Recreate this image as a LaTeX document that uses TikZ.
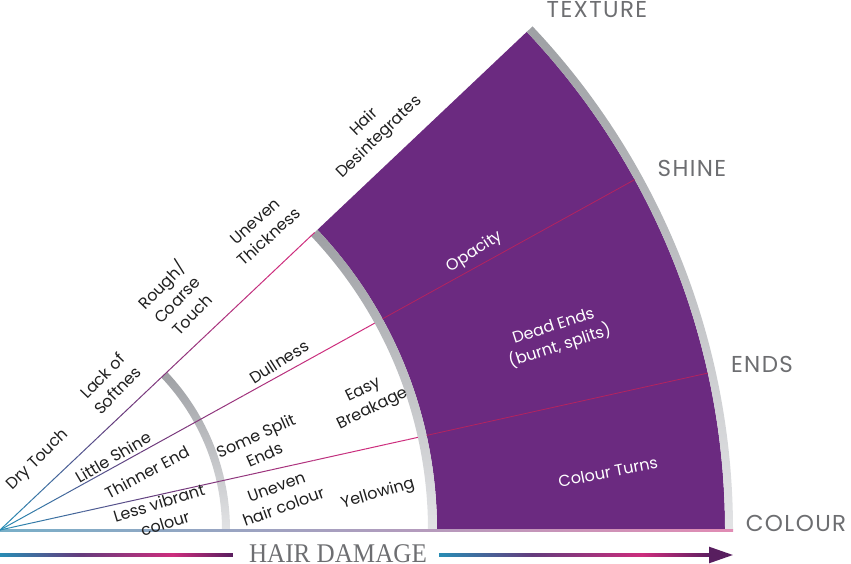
\documentclass[tikz,border=0pt]{standalone}
\usepackage{fontspec}
\setmainfont{Poppins}
\newfontfamily\axisfont[LetterSpace=6]{Poppins}
\newfontfamily\damagefont{Liberation Serif}
\usetikzlibrary{arrows.meta,calc}

\definecolor{hairpurple}{RGB}{107,42,128}
\definecolor{raystart}{RGB}{40,140,180}
\definecolor{raymid}{RGB}{100,60,125}
\definecolor{rayend}{RGB}{205,45,125}
\definecolor{rayinner}{RGB}{180,35,95}
\definecolor{bandgray}{RGB}{158,160,164}
\definecolor{bandlight}{RGB}{226,227,229}
\definecolor{labelgray}{RGB}{109,110,113}
\definecolor{arrowdark}{RGB}{88,30,95}
\definecolor{baselight}{RGB}{120,175,200}
\definecolor{basepink}{RGB}{225,140,180}

\pgfdeclarehorizontalshading{damage}{100bp}{color(0bp)=(raystart); color(25bp)=(raystart);
  color(42bp)=(raymid); color(62bp)=(rayend); color(75bp)=(arrowdark); color(100bp)=(arrowdark)}

\begin{document}
\begin{tikzpicture}[
    x=1pt, y=1pt,
    lbl/.style={
        align=center,
        inner sep=0pt,
        text=black!88,
        font=\fontsize{16}{21}\selectfont
    },
    inlbl/.style={lbl, text=white},
    axislbl/.style={
        inner sep=0pt,
        text=labelgray,
        font=\axisfont\fontsize{23}{26}\selectfont
    },
    band/.style={top color=bandgray, bottom color=bandlight}
]
\useasboundingbox (0,-34) rectangle (851,530);

% fan
\coordinate (o) at (0,0);
\def\angtex{43.4}
\def\angshine{28.9}
\def\angends{12.5}

\fill[hairpurple] (0:437) arc[start angle=0, end angle=\angtex, radius=437]
    -- (\angtex:725) arc[start angle=\angtex, end angle=0, radius=725] -- cycle;
\shade[band] (0:222) arc[start angle=0, end angle=\angtex, radius=222]
    -- (\angtex:230) arc[start angle=\angtex, end angle=0, radius=230] -- cycle;
\shade[band] (0:428) arc[start angle=0, end angle=\angtex, radius=428]
    -- (\angtex:437) arc[start angle=\angtex, end angle=0, radius=437] -- cycle;
\shade[band] (0:725) arc[start angle=0, end angle=\angtex, radius=725]
    -- (\angtex:733) arc[start angle=\angtex, end angle=0, radius=733] -- cycle;

\shade[left color=baselight, right color=basepink] (0,-1.2) rectangle (733,0.4);

% rays
\foreach \a/\r in {\angtex/433, \angshine/428, \angends/428}{
  \foreach \i in {0,...,39}{
    \pgfmathtruncatemacro\pa{min(100,\i*100/14)}
    \pgfmathtruncatemacro\pb{max(0,(\i-14)*100/20)}
    \pgfmathtruncatemacro\pb{min(100,\pb)}
    \draw[line width=1pt, color={rayend!\pb!raymid!\pa!raystart}]
      ($(o)+(\a:{\r/40*\i})$) -- ($(o)+(\a:{\r/40*(\i+1)})$);
  }
}
\draw[rayinner, line width=0.8pt] (\angshine:437) -- (\angshine:725);
\draw[rayinner, line width=0.8pt] (\angends:437) -- (\angends:725);

% texture labels
\node[lbl, rotate=44] (drytouch) at (38,70) {Dry Touch};
\node[lbl, rotate=46] (lacksoft) at (110,147) {Lack of\\Softnes};
\node[lbl, rotate=46] (roughtouch) at (176,231) {Rough/\\Coarse\\Touch};
\node[lbl, rotate=42] (uneventhick) at (262,301) {Uneven\\Thickness};
\node[lbl, rotate=44] (hairdesint) at (372,400) {Hair\\Desintegrates};

% shine labels
\node[lbl, rotate=30.5] (littleshine) at (113,73) {Little Shine};
\node[lbl, rotate=32.5] (dullness) at (279,168) {Dullness};
\node[inlbl, rotate=33] (opacity) at (475,278) {Opacity};

% ends labels
\node[lbl, rotate=28] (thinnerend) at (147,58) {Thinner End};
\node[lbl, rotate=24] (somesplit) at (260,85) {Some Split\\Ends};
\node[lbl, rotate=26] (easybreak) at (368,130) {Easy\\Breakage};
\node[inlbl, rotate=18] (deadends) at (557,193) {Dead Ends\\(burnt, splits)};

% colour labels
\node[lbl, rotate=17] (lessvibrant) at (162,17) {Less vibrant\\colour};
\node[lbl, rotate=20] (unevenhair) at (280,33) {Uneven\\hair colour};
\node[lbl, rotate=16.5] (yellowing) at (378,36) {Yellowing};
\node[inlbl, rotate=11] (colourturns) at (608,58) {Colour Turns};

% axis names
\node[axislbl] (texture) at (597,520) {TEXTURE};
\node[axislbl] (shine) at (692,362) {SHINE};
\node[axislbl] (ends) at (762,166) {ENDS};
\node[axislbl] (colour) at (796,7) {COLOUR};

% hair damage arrow
\node[inner sep=0pt, text=labelgray, xscale=0.93, font=\damagefont\fontsize{27}{30}\selectfont]
    (damage) at (338,-24) {HAIR DAMAGE};
\coordinate (dmgstart) at (0,-25);
\coordinate (dmgend) at (733,-25);
\shade[shading=damage] ($(dmgstart)+(0,-1.2)$) rectangle ($(damage.west)+(-16,0.2)$);
\shade[shading=damage] ($(damage.east)+(12,-2.2)$) rectangle ($(dmgend)+(-20,1.2)$);
\draw[arrowdark, line width=2.4pt, -{Triangle[length=24pt, width=16pt]}]
    ($(dmgend)+(-24,0)$) -- (dmgend);
\end{tikzpicture}
\end{document}
